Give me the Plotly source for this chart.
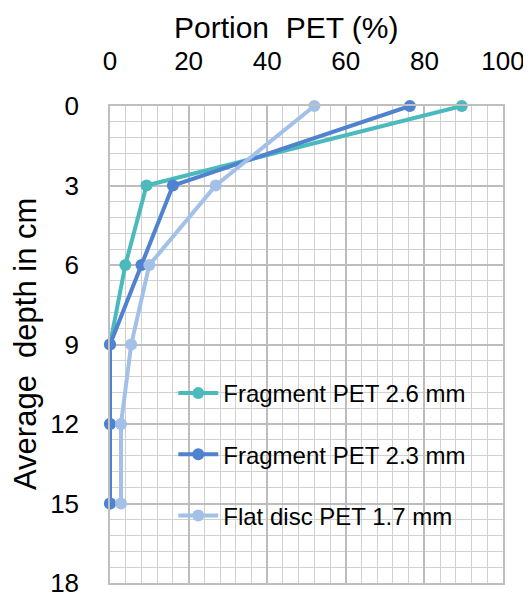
import plotly.graph_objects as go

depth = [0, 3, 6, 9, 12, 15]
frag26 = [89.5, 9.3, 3.9, 0, 0, 0]
frag23 = [76.3, 16.0, 8.0, 0, 0, 0]
disc17 = [52.0, 26.9, 10.0, 5.4, 2.8, 2.8]

names = ["Fragment PET 2.6 mm", "Fragment PET 2.3 mm", "Flat disc PET 1.7 mm"]
colors = ["#4BBABD", "#4F82CF", "#A3C0E8"]
series = [frag26, frag23, disc17]

x_ticks = [0, 20, 40, 60, 80, 100]
y_ticks = [0, 3, 6, 9, 12, 15, 18]

fig = go.Figure()
for i, (name, col, vals) in enumerate(zip(names, colors, series)):
    fig.add_trace(go.Scatter(
        x=vals, y=depth, name=name, mode="lines+markers",
        line=dict(color=col, width=4),
        marker=dict(color=col, size=12),
        legendgroup=f"g{i}",
        cliponaxis=False,
    ))

font = "Liberation Sans, Arial, sans-serif"
fig.update_layout(
    width=523, height=591,
    margin=dict(l=102, r=28, t=98, b=16),
    paper_bgcolor="white", plot_bgcolor="white",
    font=dict(family=font, color="#000000"),
    showlegend=True,
    legend=dict(
        x=0.161, y=0.4444, xanchor="left", yanchor="top",
        bgcolor="rgba(0,0,0,0)", font=dict(size=24, color="#000000"),
        tracegroupgap=27, itemwidth=40, traceorder="grouped",
    ),
    xaxis=dict(
        side="top", range=[0, 100], tickvals=x_ticks, automargin=False,
        tickfont=dict(size=26), showgrid=True, gridcolor="#BDBDBD", gridwidth=1.5,
        minor=dict(dtick=4, showgrid=True, gridcolor="#D0D0D0", gridwidth=1.3),
        showline=True, linecolor="#BFBFBF", linewidth=1.5, mirror=True,
        zeroline=False, ticks="", ticklen=0, ticklabelstandoff=24,
        ticklabeloverflow="allow",
    ),
    yaxis=dict(
        autorange=False, range=[18, 0], tickvals=y_ticks, automargin=False,
        tickfont=dict(size=26), showgrid=True, gridcolor="#BDBDBD", gridwidth=1.5,
        minor=dict(dtick=0.6, showgrid=True, gridcolor="#D0D0D0", gridwidth=1.3),
        showline=True, linecolor="#BFBFBF", linewidth=1.5, mirror=True,
        zeroline=False, ticks="", ticklen=0, ticklabelstandoff=24,
        ticklabeloverflow="allow",
    ),
    annotations=[
        dict(text="Portion  PET (%)", xref="paper", yref="paper",
             x=0.45, y=1 + 79 / 477,
             xanchor="center", yanchor="middle", showarrow=False,
             font=dict(size=30, color="#000000")),
        dict(text="Average  depth in cm", xref="paper", yref="paper",
             x=-0.215, y=0.5, xanchor="center", yanchor="middle", textangle=-90,
             showarrow=False, font=dict(size=31, color="#000000")),
    ],
)

fig.write_html("out.html")
